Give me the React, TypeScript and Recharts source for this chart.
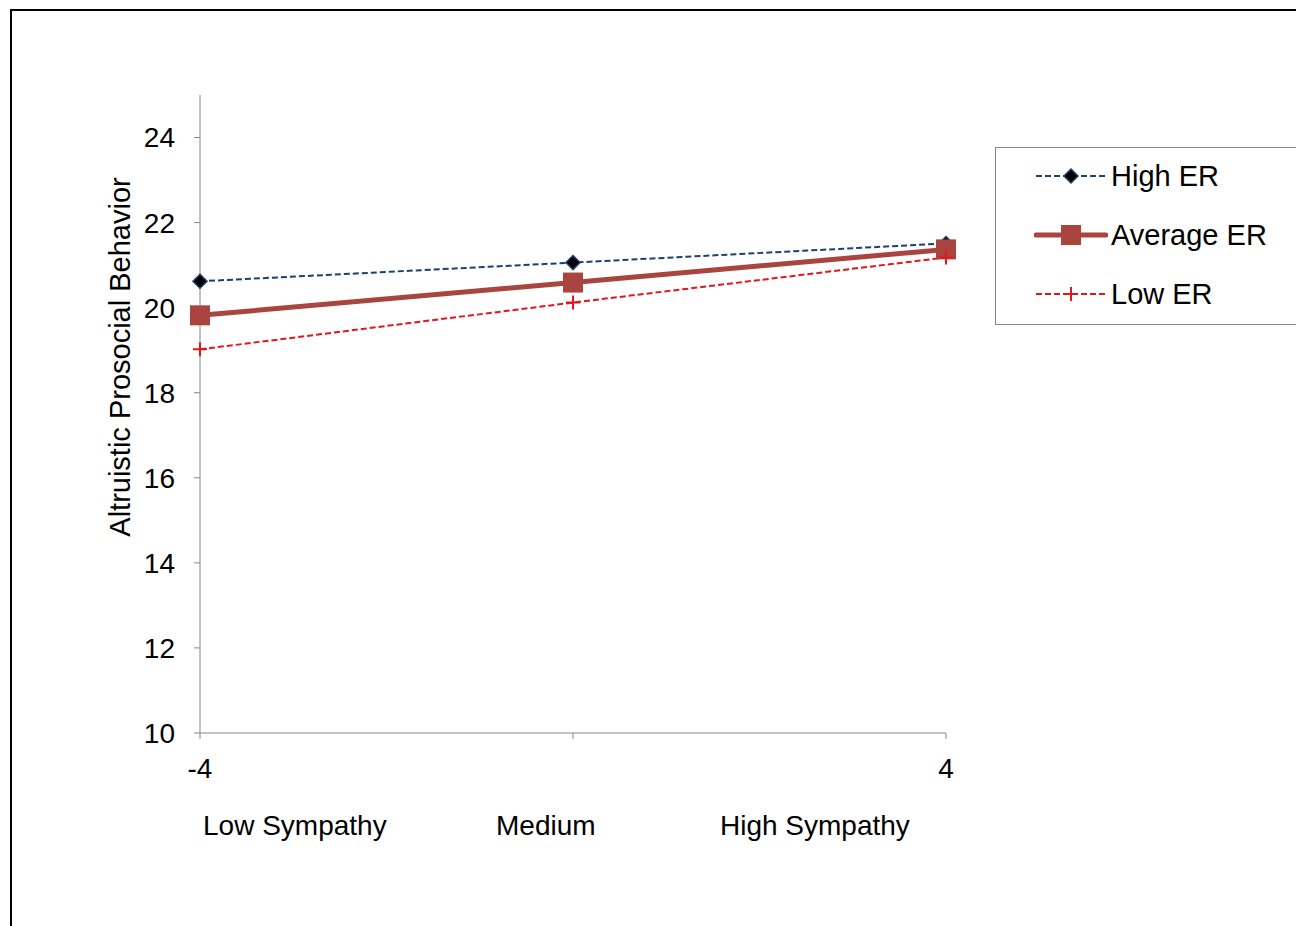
import { LineChart, Line, XAxis, YAxis } from "recharts";

const xValues = [-4, 0, 4];
const highER = [20.62, 21.06, 21.51];
const averageER = [19.82, 20.59, 21.37];
const lowER = [19.02, 20.12, 21.18];
const yTicks = [10, 12, 14, 16, 18, 20, 22, 24];
const xTicks = [-4, 0, 4];
const groupLabels = ["Low Sympathy", "Medium", "High Sympathy"];
const groupLabelLeft = [203, 496, 720];

const FONT = "'Liberation Sans', Arial, sans-serif";
const HIGH_COLOR = "#1F3F6E";
const AVG_COLOR = "#A9443F";
const LOW_COLOR = "#E3161B";
const AXIS_COLOR = "#868686";

const data = xValues.map((x, i) => ({
  x,
  high: highER[i],
  average: averageER[i],
  low: lowER[i],
}));

// eslint-disable-next-line @typescript-eslint/no-explicit-any
function Diamond(props: any) {
  const { cx, cy } = props;
  if (cx == null || cy == null) return null;
  const r = 7;
  return (
    <path
      d={`M${cx},${cy - r} L${cx + r},${cy} L${cx},${cy + r} L${cx - r},${cy} Z`}
      fill="#000"
      stroke={HIGH_COLOR}
      strokeWidth={1.5}
    />
  );
}

// eslint-disable-next-line @typescript-eslint/no-explicit-any
function Square(props: any) {
  const { cx, cy } = props;
  if (cx == null || cy == null) return null;
  return <rect x={cx - 10} y={cy - 10} width={20} height={20} fill={AVG_COLOR} />;
}

// eslint-disable-next-line @typescript-eslint/no-explicit-any
function Plus(props: any) {
  const { cx, cy } = props;
  if (cx == null || cy == null) return null;
  const r = 7;
  return (
    <path
      d={`M${cx - r},${cy} L${cx + r},${cy} M${cx},${cy - r} L${cx},${cy + r}`}
      stroke={LOW_COLOR}
      strokeWidth={2}
    />
  );
}

function LegendBox() {
  const rows = [
    { name: "High ER", color: HIGH_COLOR, width: 2, dash: "6 3", marker: "diamond" },
    { name: "Average ER", color: AVG_COLOR, width: 5, dash: undefined, marker: "square" },
    { name: "Low ER", color: LOW_COLOR, width: 2, dash: "6 3", marker: "plus" },
  ];
  return (
    <div
      style={{
        position: "absolute",
        left: 995,
        top: 147,
        width: 320,
        height: 176,
        border: "1px solid #868686",
        background: "#fff",
      }}
    >
      {rows.map((r, i) => (
        <div
          key={r.name}
          style={{
            position: "absolute",
            left: 38,
            top: 28 + i * 59 - 18,
            height: 36,
            display: "flex",
            alignItems: "center",
          }}
        >
          <svg width={74} height={36} style={{ display: "block" }}>
            <line
              x1={2}
              x2={72}
              y1={18}
              y2={18}
              stroke={r.color}
              strokeWidth={r.width}
              strokeDasharray={r.dash}
              strokeLinecap={r.dash ? "butt" : "round"}
            />
            {r.marker === "diamond" && <Diamond cx={37} cy={18} />}
            {r.marker === "square" && <Square cx={37} cy={18} />}
            {r.marker === "plus" && <Plus cx={37} cy={18} />}
          </svg>
          <span style={{ fontFamily: FONT, fontSize: 29, color: "#000", marginLeft: 3 }}>{r.name}</span>
        </div>
      ))}
    </div>
  );
}

export default function App() {
  return (
    <div
      style={{
        position: "absolute",
        left: 0,
        top: 0,
        width: 1296,
        height: 926,
        overflow: "hidden",
        background: "#fff",
        fontFamily: FONT,
      }}
    >
      <div
        style={{
          position: "absolute",
          left: 10,
          top: 9,
          width: 1400,
          height: 1000,
          borderLeft: "2px solid #000",
          borderTop: "2px solid #000",
        }}
      />
      <LineChart
        width={1296}
        height={926}
        data={data}
        margin={{ top: 95, right: 350, bottom: 133, left: 140 }}
        style={{ position: "absolute", left: 0, top: 0 }}
      >
        <XAxis
          dataKey="x"
          type="number"
          domain={[-4, 4]}
          ticks={xTicks}
          tickFormatter={(v) => (v === 0 ? "" : String(v))}
          height={60}
          stroke={AXIS_COLOR}
          tickSize={6}
          tickMargin={19}
          tick={{ fontSize: 28, fill: "#000", fontFamily: FONT }}
        />
        <YAxis
          type="number"
          domain={[10, 25]}
          ticks={yTicks}
          width={60}
          stroke={AXIS_COLOR}
          tickSize={6}
          tickMargin={19}
          tick={{ fontSize: 28, fill: "#000", fontFamily: FONT }}
        />
        <Line
          dataKey="high"
          stroke={HIGH_COLOR}
          strokeWidth={2}
          strokeDasharray="6 3"
          dot={<Diamond />}
          activeDot={false}
          isAnimationActive={false}
        />
        <Line
          dataKey="average"
          stroke={AVG_COLOR}
          strokeWidth={5}
          dot={<Square />}
          activeDot={false}
          isAnimationActive={false}
        />
        <Line
          dataKey="low"
          stroke={LOW_COLOR}
          strokeWidth={2}
          strokeDasharray="6 3"
          dot={<Plus />}
          activeDot={false}
          isAnimationActive={false}
        />
      </LineChart>
      <div
        style={{
          position: "absolute",
          left: 120,
          top: 357,
          transform: "translate(-50%, -50%) rotate(-90deg)",
          whiteSpace: "nowrap",
          fontSize: 29,
          color: "#000",
        }}
      >
        Altruistic Prosocial Behavior
      </div>
      {groupLabels.map((label, i) => (
        <div
          key={label}
          style={{
            position: "absolute",
            left: groupLabelLeft[i],
            top: 826,
            transform: "translateY(-50%)",
            whiteSpace: "nowrap",
            fontSize: 28,
            color: "#000",
          }}
        >
          {label}
        </div>
      ))}
      <LegendBox />
    </div>
  );
}
